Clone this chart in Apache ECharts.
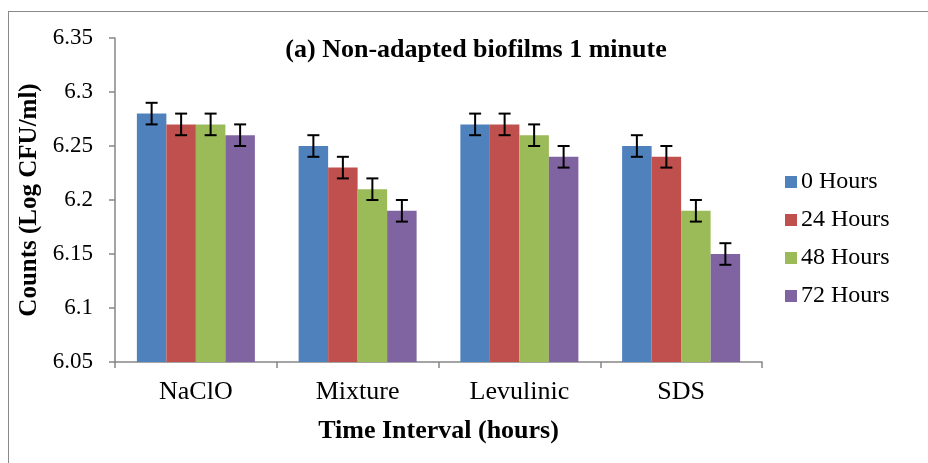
<!DOCTYPE html>
<html>
<head>
<meta charset="utf-8">
<script src="https://cdn.jsdelivr.net/npm/echarts@6/dist/echarts.min.js"></script>
<style>
  html, body { margin: 0; padding: 0; background: #fff; }
  #frame { position: absolute; left: 8px; top: 11px; width: 930px; height: 460px;
           border-left: 1px solid #8a8a8a; border-top: 1px solid #8a8a8a; }
  #chart { position: absolute; left: 0; top: 0; width: 928px; height: 463px; }
</style>
</head>
<body>
<div id="frame"></div>
<div id="chart"></div>
<script>
  // chart data
  const categories = ['NaClO', 'Mixture', 'Levulinic', 'SDS']
  const seriesNames = ['0 Hours', '24 Hours', '48 Hours', '72 Hours']
  const hours0 = [6.28, 6.25, 6.27, 6.25]
  const hours24 = [6.27, 6.23, 6.27, 6.24]
  const hours48 = [6.27, 6.21, 6.26, 6.19]
  const hours72 = [6.26, 6.19, 6.24, 6.15]
  const errors = [0.01, 0.01, 0.01, 0.01]
  const colors = ['#4F81BD', '#C0504D', '#9BBB59', '#8064A2']

  const font = '"Liberation Serif", "Times New Roman", serif'
  const allValues = [hours0, hours24, hours48, hours72]
  const barWidth = 29.5
  const axisGray = '#868686'

  const chart = echarts.init(document.getElementById('chart'), null, { renderer: 'canvas' })

  // bar series
  const bars = allValues.map((vals, i) => ({
    name: seriesNames[i],
    type: 'bar',
    data: vals,
    barWidth: barWidth,
    barGap: '0%',
    itemStyle: { color: colors[i] },
    z: 2
  }))

  // error bars, one custom series drawing I shapes over each bar
  const errData = []
  allValues.forEach((vals, s) => {
    vals.forEach((v, c) => {
      errData.push([c, v - errors[c], v + errors[c], s])
    })
  })
  const errorSeries = {
    type: 'custom',
    data: errData,
    z: 10,
    encode: { x: 0, y: [1, 2] },
    renderItem(params, api) {
      const c = api.value(0)
      const s = api.value(3)
      const lo = api.coord([c, api.value(1)])
      const hi = api.coord([c, api.value(2)])
      const x = lo[0] + (s - 1.5) * barWidth
      const half = 6
      const style = { stroke: '#000', lineWidth: 2 }
      return {
        type: 'group',
        children: [
          { type: 'line', shape: { x1: x, y1: hi[1], x2: x, y2: lo[1] }, style },
          { type: 'line', shape: { x1: x - half, y1: hi[1], x2: x + half, y2: hi[1] }, style },
          { type: 'line', shape: { x1: x - half, y1: lo[1], x2: x + half, y2: lo[1] }, style }
        ]
      }
    }
  }

  const option = {
    animation: false,
    backgroundColor: 'transparent',
    title: {
      text: '(a) Non-adapted biofilms 1 minute',
      left: 471,
      top: 32,
      textAlign: 'center',
      textStyle: { fontFamily: font, fontSize: 26, fontWeight: 'bold', color: '#000' }
    },
    legend: {
      orient: 'vertical',
      left: 780,
      top: 165,
      itemWidth: 12,
      itemHeight: 12,
      itemGap: 14,
      icon: 'rect',
      data: seriesNames,
      textStyle: { fontFamily: font, fontSize: 24, color: '#000', padding: [0, 0, 0, -1] }
    },
    grid: { left: 115, right: 166, top: 38, bottom: 101 },
    xAxis: {
      type: 'category',
      data: categories,
      name: 'Time Interval (hours)',
      nameLocation: 'middle',
      nameGap: 56,
      nameTextStyle: { fontFamily: font, fontSize: 26, fontWeight: 'bold', color: '#000' },
      axisLine: { lineStyle: { color: axisGray, width: 1.5 } },
      axisTick: { show: true, length: 6, lineStyle: { color: axisGray, width: 1.5 } },
      axisLabel: { fontFamily: font, fontSize: 26, color: '#000', margin: 17 }
    },
    yAxis: {
      type: 'value',
      min: 6.05,
      max: 6.35,
      interval: 0.05,
      name: 'Counts (Log CFU/ml)',
      nameLocation: 'middle',
      nameGap: 71,
      nameTextStyle: { fontFamily: font, fontSize: 25, fontWeight: 'bold', color: '#000' },
      splitLine: { show: false },
      axisLine: { show: true, lineStyle: { color: axisGray, width: 1.5 } },
      axisTick: { show: true, length: 6, lineStyle: { color: axisGray, width: 1.5 } },
      axisLabel: {
        fontFamily: font, fontSize: 23, color: '#000', margin: 22,
        formatter: v => String(parseFloat(v.toFixed(2)))
      }
    },
    series: [...bars, errorSeries]
  }

  chart.setOption(option)
</script>
</body>
</html>
